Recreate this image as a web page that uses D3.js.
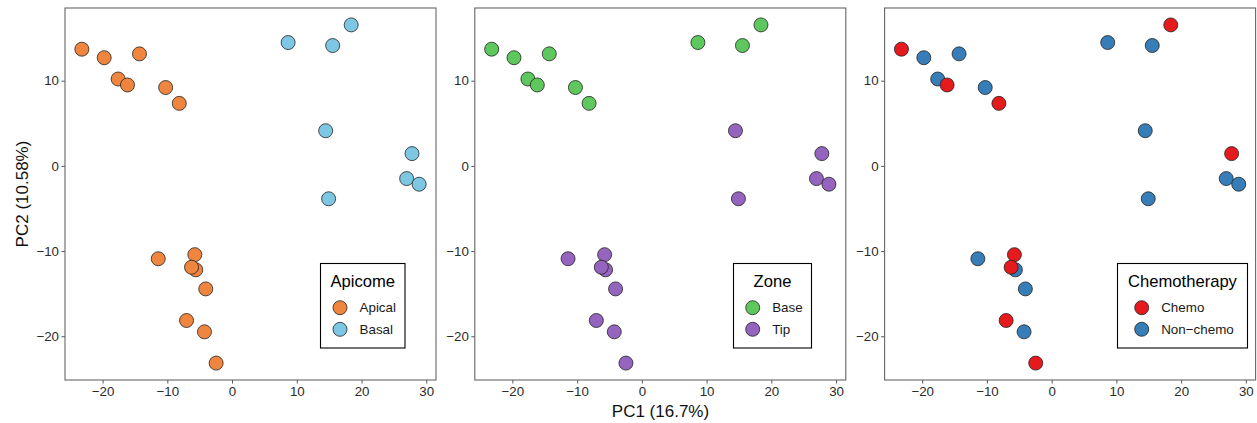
<!DOCTYPE html>
<html><head><meta charset="utf-8">
<script src="https://cdn.jsdelivr.net/npm/d3@7"></script>
<style>body{margin:0;background:#fff;} text{font-family:"Liberation Sans",Arial,sans-serif;}</style>
</head><body><svg id="c" width="1257" height="423"></svg>
<script>
// sample PCA coordinates (draw order)
const pc1 = [-23.2,-19.75,-17.6,-16.15,-14.3,-10.26,-8.15,8.66,15.54,18.4,14.46,27.8,26.97,28.9,14.92,-11.4,-5.75,-5.6,-6.26,-4.06,-7.03,-4.26,-2.46];
const pc2 = [13.7,12.7,10.2,9.5,13.15,9.2,7.34,14.48,14.13,16.55,4.13,1.44,-1.49,-2.15,-3.86,-10.9,-10.42,-12.2,-11.9,-14.44,-18.15,-19.48,-23.15];
const apicome = ["Apical","Apical","Apical","Apical","Apical","Apical","Apical","Basal","Basal","Basal","Basal","Basal","Basal","Basal","Basal","Apical","Apical","Apical","Apical","Apical","Apical","Apical","Apical"];
const zone = ["Base","Base","Base","Base","Base","Base","Base","Base","Base","Base","Tip","Tip","Tip","Tip","Tip","Tip","Tip","Tip","Tip","Tip","Tip","Tip","Tip"];
const chemo = ["Chemo","Non-chemo","Non-chemo","Chemo","Non-chemo","Non-chemo","Chemo","Non-chemo","Non-chemo","Chemo","Non-chemo","Chemo","Non-chemo","Non-chemo","Non-chemo","Non-chemo","Chemo","Non-chemo","Chemo","Non-chemo","Chemo","Non-chemo","Chemo"];
const xTicks = [-20,-10,0,10,20,30];
const yTicks = [-20,-10,0,10];
const panels = [
  {title:"Apicome", groups:apicome, levels:["Apical","Basal"], colors:["#F0853F","#7EC7E4"], legX:320.5, legW:84.5},
  {title:"Zone", groups:zone, levels:["Base","Tip"], colors:["#5EC85E","#9564BF"], legX:733.5, legW:78},
  {title:"Chemotherapy", groups:chemo, levels:["Chemo","Non-chemo"], colors:["#E41A1C","#377EB8"], legX:1117.5, legW:130}
];
const svg = d3.select("#c");
const W = 371, plotTop = 8, plotBottom = 380;
const xr = d3.extent(pc1), yr = d3.extent(pc2);
const xe = (xr[1]-xr[0])*0.05, ye = (yr[1]-yr[0])*0.05;
panels.forEach((p,i)=>{
  const left = 65 + i*409.8;
  const x = d3.scaleLinear().domain([xr[0]-xe, xr[1]+xe]).range([left, left+W]);
  const y = d3.scaleLinear().domain([yr[0]-ye, yr[1]+ye]).range([plotBottom, plotTop]);
  const color = d3.scaleOrdinal().domain(p.levels).range(p.colors);
  const g = svg.append("g");
  const xa = g.append("g").attr("transform",`translate(0,${plotBottom})`)
    .call(d3.axisBottom(x).tickValues(xTicks).tickSize(3.5).tickPadding(3).tickFormat(d=>d<0?"\u2212"+(-d):d));
  const ya = g.append("g").attr("transform",`translate(${left},0)`)
    .call(d3.axisLeft(y).tickValues(yTicks).tickSize(3.5).tickPadding(2.5).tickFormat(d=>d<0?"\u2212"+(-d):d));
  [xa,ya].forEach(a=>{a.select(".domain").remove(); a.selectAll("line").attr("stroke","#555");
    a.selectAll("text").attr("fill","#2b2b2b").style("font-size","13.3px").style("font-family","'Liberation Sans',Arial,sans-serif");});
  g.append("rect").attr("x",left).attr("y",plotTop).attr("width",W).attr("height",plotBottom-plotTop)
    .attr("fill","none").attr("stroke","#666").attr("stroke-width",1.1);
  g.selectAll("circle.pt").data(pc1.map((v,k)=>({x:v,y:pc2[k],g:p.groups[k]}))).join("circle")
    .attr("class","pt").attr("cx",d=>x(d.x)).attr("cy",d=>y(d.y)).attr("r",7)
    .attr("fill",d=>color(d.g)).attr("stroke","#222").attr("stroke-width",0.8);
  // legend
  const lg = g.append("g");
  lg.append("rect").attr("x",p.legX).attr("y",263.5).attr("width",p.legW).attr("height",84.5)
    .attr("fill","#fff").attr("stroke","#000").attr("stroke-width",1.1);
  lg.append("text").attr("x",p.legX+p.legW/2).attr("y",287).attr("text-anchor","middle")
    .style("font-size","16.6px").attr("fill","#000").text(p.title);
  p.levels.forEach((lv,j)=>{
    const cy = 307.7 + j*21.6;
    const kx = p.legX + (i===2?24.2:(i===1?19.2:19.5));
    lg.append("circle").attr("cx",kx).attr("cy",cy).attr("r",7).attr("fill",color(lv)).attr("stroke","#222").attr("stroke-width",0.8);
    lg.append("text").attr("x",kx+19.5).attr("y",cy+4.6).style("font-size","13.4px").attr("fill","#1a1a1a").text(lv.replace("-","\u2212"));
  });
});
svg.append("text").attr("transform","translate(27.5,194) rotate(-90)").attr("text-anchor","middle")
  .style("font-size","17px").attr("fill","#111").text("PC2 (10.58%)");
svg.append("text").attr("x",660.5).attr("y",416.5).attr("text-anchor","middle")
  .style("font-size","17px").attr("fill","#111").text("PC1 (16.7%)");
</script></body></html>
